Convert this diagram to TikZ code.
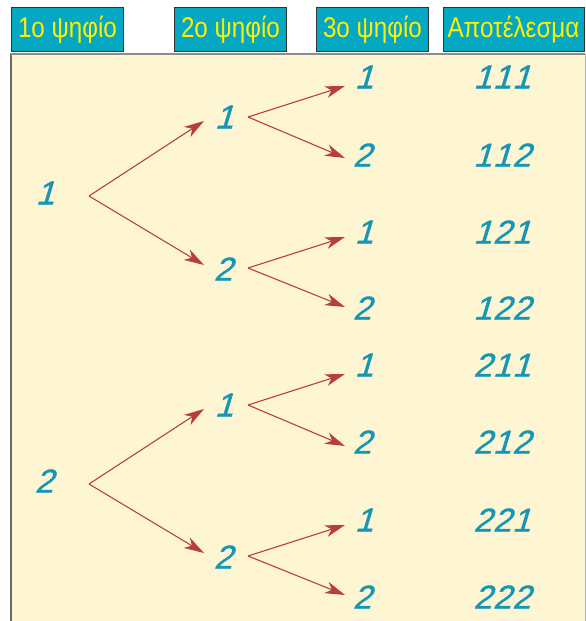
\documentclass[tikz,border=0pt]{standalone}
\usepackage{fontspec}
\setmainfont{Liberation Sans}
\newfontfamily\headfont[FakeStretch=0.85]{Liberation Sans}
\newfontfamily\digfont[FakeSlant=0.3,FakeBold=1.2]{Liberation Sans}
\usetikzlibrary{arrows.meta}
\definecolor{cream}{HTML}{FEF6D3}
\definecolor{headcyan}{HTML}{05A8C3}
\definecolor{headyellow}{HTML}{FFF000}
\definecolor{digteal}{HTML}{1696B4}
\definecolor{arrred}{HTML}{B83E3E}
\definecolor{edgegray}{HTML}{6A6A6A}
\begin{document}
\begin{tikzpicture}[x=1pt,y=-1pt,
  header/.style={draw=black!80,line width=1pt,fill=headcyan,text=headyellow,
    font=\headfont\fontsize{28.5}{30}\selectfont,inner sep=0pt,anchor=center},
  dig/.style={text=digteal,font=\digfont\fontsize{33}{35}\selectfont,inner sep=0pt},
  res/.style={dig,font=\digfont\fontsize{33}{35}\selectfont},
  arr/.style={draw=arrred,line width=1.1pt,-{Stealth[length=20pt,width=12pt,inset=6pt]}}
]
\useasboundingbox (0,0) rectangle (586,621);
% panel
\fill[cream] (10,54) rectangle (585,621);
\draw[edgegray,line width=2pt] (11,621) -- (11,54);
\draw[black!45,line width=1.2pt] (10,54) -- (585,54);
\draw[black!30,line width=0.8pt] (585,54) -- (585,621);
% headers
\node[header,minimum width=112pt,minimum height=44pt] (h1) at (67.5,29.5) {1ο ψηφίο};
\node[header,minimum width=112pt,minimum height=44pt] (h2) at (230.5,29.5) {2ο ψηφίο};
\node[header,minimum width=112pt,minimum height=44pt] (h3) at (372.5,29.5) {3ο ψηφίο};
\node[header,minimum width=141pt,minimum height=44pt] (h4) at (513.5,29.5) {Αποτέλεσμα};
% level 1
\node[dig] (a1) at (45,193) {1};
\node[dig] (a2) at (44,481) {2};
% level 2
\node[dig] (b1) at (224,117) {1};
\node[dig] (b2) at (223,269) {2};
\node[dig] (b3) at (224,405) {1};
\node[dig] (b4) at (223,557) {2};
% level 3
\node[dig] (c1) at (364,77) {1};
\node[dig] (c2) at (362,155) {2};
\node[dig] (c3) at (364,232) {1};
\node[dig] (c4) at (362,308) {2};
\node[dig] (c5) at (364,365) {1};
\node[dig] (c6) at (362,442) {2};
\node[dig] (c7) at (364,520) {1};
\node[dig] (c8) at (362,597) {2};
% results
\newcommand\trio[3]{#1\hspace{1pt}#2\hspace{1pt}#3}
\node[res] (r1) at (502,77) {\trio111};
\node[res] (r2) at (502,155) {\trio112};
\node[res] (r3) at (502,232) {\trio121};
\node[res] (r4) at (502,308) {\trio122};
\node[res] (r5) at (502,365) {\trio211};
\node[res] (r6) at (502,442) {\trio212};
\node[res] (r7) at (502,520) {\trio221};
\node[res] (r8) at (502,597) {\trio222};
% fork points and tips
\coordinate (fa1) at (89,196);
\coordinate (fa2) at (89,484);
\coordinate (tb1) at (204,121);
\coordinate (tb2) at (204,265);
\coordinate (tb3) at (204,409);
\coordinate (tb4) at (204,553);
\coordinate (fb1) at (248,117);
\coordinate (fb2) at (248,268);
\coordinate (fb3) at (248,405);
\coordinate (fb4) at (248,556);
\coordinate (tc1) at (345,86);
\coordinate (tc2) at (345,158);
\coordinate (tc3) at (345,237);
\coordinate (tc4) at (345,307);
\coordinate (tc5) at (345,374);
\coordinate (tc6) at (345,446);
\coordinate (tc7) at (345,525);
\coordinate (tc8) at (345,595);
% arrows
\draw[arr] (fa1) -- (tb1);
\draw[arr] (fa1) -- (tb2);
\draw[arr] (fa2) -- (tb3);
\draw[arr] (fa2) -- (tb4);
\draw[arr] (fb1) -- (tc1);
\draw[arr] (fb1) -- (tc2);
\draw[arr] (fb2) -- (tc3);
\draw[arr] (fb2) -- (tc4);
\draw[arr] (fb3) -- (tc5);
\draw[arr] (fb3) -- (tc6);
\draw[arr] (fb4) -- (tc7);
\draw[arr] (fb4) -- (tc8);
\end{tikzpicture}
\end{document}
